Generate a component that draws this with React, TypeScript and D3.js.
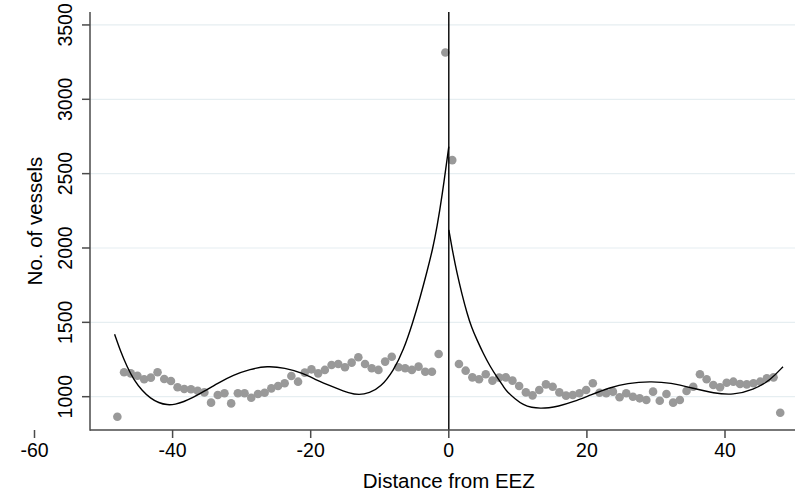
import React from "react";
import * as d3 from "d3";

const W = 795;
const H = 497;

// Binned scatter: left of the EEZ boundary
const leftX = [-48.0, -47.03, -46.06, -45.09, -44.12, -43.15, -42.18, -41.21, -40.24, -39.28, -38.31, -37.34, -36.37, -35.4, -34.43, -33.46, -32.49, -31.52, -30.55, -29.58, -28.61, -27.64, -26.67, -25.7, -24.73, -23.77, -22.8, -21.83, -20.86, -19.89, -18.92, -17.95, -16.98, -16.01, -15.04, -14.07, -13.1, -12.13, -11.16, -10.19, -9.22, -8.26, -7.29, -6.32, -5.35, -4.38, -3.41, -2.44, -1.47, -0.5];
const leftY = [865, 1164, 1157, 1141, 1117, 1128, 1164, 1119, 1106, 1063, 1052, 1050, 1040, 1029, 960, 1011, 1023, 955, 1023, 1023, 993, 1018, 1027, 1056, 1072, 1090, 1139, 1101, 1162, 1184, 1157, 1180, 1213, 1220, 1198, 1229, 1265, 1220, 1191, 1180, 1236, 1269, 1198, 1191, 1180, 1202, 1168, 1168, 1287, 3315];

// Binned scatter: right of the EEZ boundary
const rightX = [0.5, 1.47, 2.44, 3.41, 4.38, 5.35, 6.32, 7.29, 8.26, 9.22, 10.19, 11.16, 12.13, 13.1, 14.07, 15.04, 16.01, 16.98, 17.95, 18.92, 19.89, 20.86, 21.83, 22.8, 23.77, 24.73, 25.7, 26.67, 27.64, 28.61, 29.58, 30.55, 31.52, 32.49, 33.46, 34.43, 35.4, 36.37, 37.34, 38.31, 39.28, 40.24, 41.21, 42.18, 43.15, 44.12, 45.09, 46.06, 47.03, 48.0];
const rightY = [2591, 1220, 1175, 1130, 1117, 1151, 1108, 1128, 1130, 1108, 1072, 1029, 1009, 1045, 1083, 1067, 1029, 1007, 1011, 1023, 1045, 1090, 1027, 1023, 1034, 996, 1023, 1000, 989, 978, 1034, 973, 1018, 960, 978, 1038, 1067, 1151, 1117, 1079, 1063, 1094, 1101, 1085, 1083, 1090, 1101, 1124, 1130, 892];

// Fitted curve, left side
const fitLeftX = [-48.4, -47.5, -46.6, -45.6, -44.4, -43.2, -42.0, -40.8, -39.6, -38.4, -37.0, -35.5, -33.5, -31.2, -28.8, -26.3, -23.8, -21.0, -19.6, -16.2, -14.5, -13.0, -11.5, -9.9, -8.0, -6.55, -5.2, -4.13, -3.16, -2.3, -1.71, -1.0, 0];
const fitLeftY = [1420, 1300, 1202, 1112, 1040, 989, 958, 944, 948, 966, 995, 1034, 1090, 1146, 1185, 1207, 1195, 1157, 1120, 1056, 1025, 1011, 1025, 1062, 1175, 1314, 1500, 1670, 1840, 2000, 2140, 2340, 2682];

// Fitted curve, right side
const fitRightX = [0, 0.6, 1.19, 1.9, 2.64, 3.3, 4.08, 5.0, 6.0, 7.0, 7.94, 8.4, 9.6, 10.8, 12.0, 13.25, 14.5, 15.7, 18.1, 20.5, 23.4, 25.8, 29.2, 32.1, 35.45, 38.35, 41.2, 44.1, 46.6, 48.4];
const fitRightY = [2122, 1965, 1830, 1690, 1561, 1465, 1382, 1290, 1202, 1130, 1067, 1035, 985, 944, 927, 922, 925, 933, 966, 1011, 1062, 1090, 1103, 1094, 1056, 1023, 1011, 1045, 1112, 1202];

const xTicks = [-60, -40, -20, 0, 20, 40];
const yTicks = [1000, 1500, 2000, 2500, 3000, 3500];

const FONT = "'Liberation Sans', Arial, Helvetica, sans-serif";

export default function App() {
  const plotLeft = 90;
  const plotRight = 795;
  const plotTop = 12;
  const plotBottom = 430;

  const x = d3.scaleLinear().domain([-60, 50]).range([34.5, 34.5 + 110 * 6.905]);
  const y = d3.scaleLinear().domain([776, 3587]).range([plotBottom, plotTop]);

  const line = d3
    .line<[number, number]>()
    .x((d) => x(d[0]))
    .y((d) => y(d[1]))
    .curve(d3.curveBasis);

  const leftFit = fitLeftX.map((v, i) => [v, fitLeftY[i]] as [number, number]);
  const rightFit = fitRightX.map((v, i) => [v, fitRightY[i]] as [number, number]);

  const pts = [
    ...leftX.map((v, i) => [v, leftY[i]]),
    ...rightX.map((v, i) => [v, rightY[i]]),
  ];

  const axisColor = "#4a4a4a";

  return (
    <svg
      width={W}
      height={H}
      style={{ position: "absolute", left: 0, top: 0, background: "#fff" }}
      fontFamily={FONT}
    >
      {/* gridlines */}
      {yTicks.map((t) => (
        <line
          key={"g" + t}
          x1={plotLeft}
          x2={plotRight}
          y1={y(t)}
          y2={y(t)}
          stroke="#e6eef1"
          strokeWidth={1.2}
        />
      ))}
      {/* scatter */}
      {pts.map((p, i) => (
        <circle key={"p" + i} cx={x(p[0])} cy={y(p[1])} r={4.3} fill="#999999" />
      ))}
      {/* fits */}
      <path d={line(leftFit) || ""} fill="none" stroke="#000" strokeWidth={1.4} />
      <path d={line(rightFit) || ""} fill="none" stroke="#000" strokeWidth={1.4} />
      {/* cutoff line */}
      <line x1={x(0)} x2={x(0)} y1={plotTop} y2={plotBottom} stroke="#000" strokeWidth={1.4} />
      {/* axes */}
      <line x1={plotLeft} x2={plotLeft} y1={plotTop} y2={plotBottom + 0.75} stroke={axisColor} strokeWidth={1.5} />
      <line x1={plotLeft} x2={plotRight} y1={plotBottom} y2={plotBottom} stroke={axisColor} strokeWidth={1.5} />
      {yTicks.map((t) => (
        <g key={"yt" + t}>
          <line x1={plotLeft - 8} x2={plotLeft} y1={y(t)} y2={y(t)} stroke={axisColor} strokeWidth={1.5} />
          <text
            transform={`translate(71.5,${y(t)}) rotate(-90)`}
            textAnchor="middle"
            fontSize={19.5}
            fill="#000"
          >
            {t}
          </text>
        </g>
      ))}
      {xTicks.map((t) => (
        <g key={"xt" + t}>
          <line x1={x(t)} x2={x(t)} y1={plotBottom} y2={plotBottom + 8} stroke={axisColor} strokeWidth={1.5} />
          <text x={x(t)} y={457} textAnchor="middle" fontSize={19.5} fill="#000">
            {t}
          </text>
        </g>
      ))}
      <text x={x(0)} y={488} textAnchor="middle" fontSize={20.5} fill="#000">
        Distance from EEZ
      </text>
      <text
        transform={`translate(42,${(plotTop + plotBottom) / 2}) rotate(-90)`}
        textAnchor="middle"
        fontSize={20.5}
        fill="#000"
      >
        No. of vessels
      </text>
    </svg>
  );
}
